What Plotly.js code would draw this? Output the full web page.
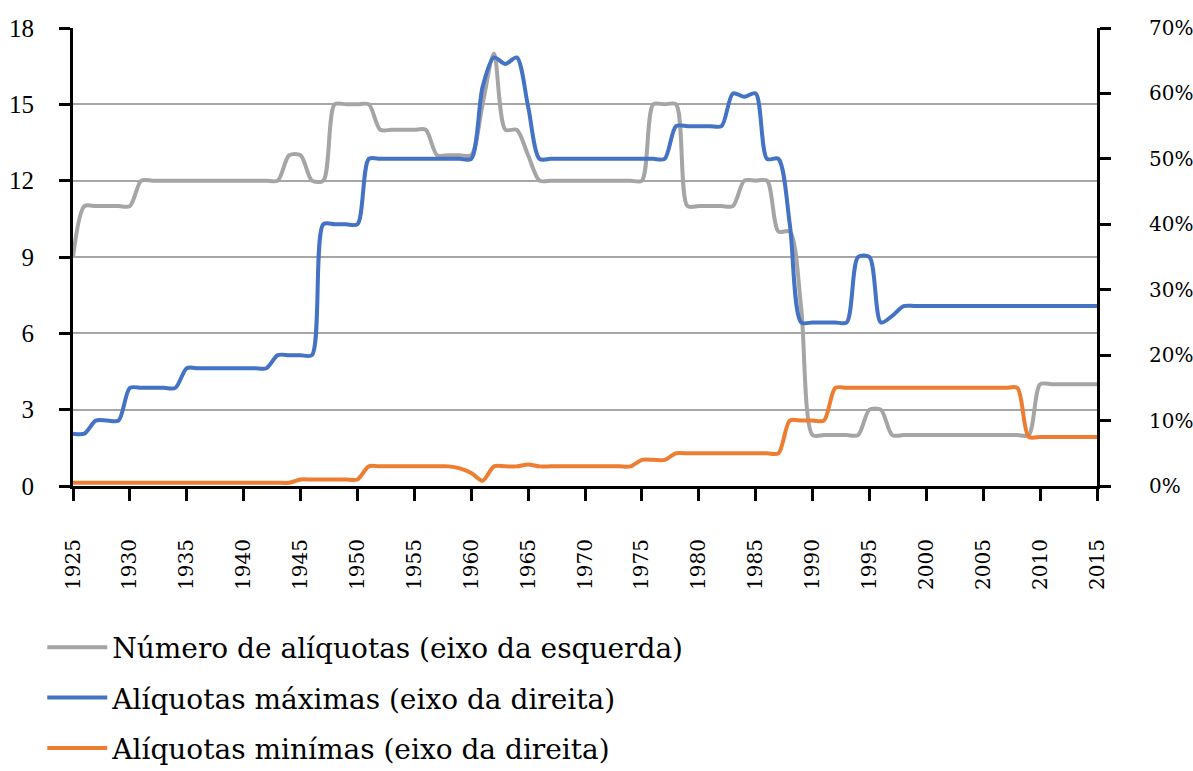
<!DOCTYPE html>
<html>
<head>
<meta charset="utf-8">
<script src="https://cdn.plot.ly/plotly-3.0.1.min.js"></script>
<style>html,body{margin:0;padding:0;background:#fff;}#chart{width:1193px;height:771px;}</style>
</head>
<body>
<div id="chart"></div>
<script>
const years = [1925,1926,1927,1928,1929,1930,1931,1932,1933,1934,1935,1936,1937,1938,1939,1940,1941,1942,1943,1944,1945,1946,1947,1948,1949,1950,1951,1952,1953,1954,1955,1956,1957,1958,1959,1960,1961,1962,1963,1964,1965,1966,1967,1968,1969,1970,1971,1972,1973,1974,1975,1976,1977,1978,1979,1980,1981,1982,1983,1984,1985,1986,1987,1988,1989,1990,1991,1992,1993,1994,1995,1996,1997,1998,1999,2000,2001,2002,2003,2004,2005,2006,2007,2008,2009,2010,2011,2012,2013,2014,2015];

// Número de alíquotas (eixo da esquerda)
const numeroAliquotas = [9,11,11,11,11,11,12,12,12,12,12,12,12,12,12,12,12,12,12,13,13,12,12,15,15,15,15,14,14,14,14,14,13,13,13,13,15,17,14,14,13,12,12,12,12,12,12,12,12,12,12,15,15,15,11,11,11,11,11,12,12,12,10,10,7,2,2,2,2,2,3,3,2,2,2,2,2,2,2,2,2,2,2,2,2,4,4,4,4,4,4];

// Alíquotas máximas (eixo da direita), %
const aliquotasMaximas = [8,8,10,10,10,15,15,15,15,15,18,18,18,18,18,18,18,18,20,20,20,20,40,40,40,40,50,50,50,50,50,50,50,50,50,50,61,65.5,64.5,65.5,58,50,50,50,50,50,50,50,50,50,50,50,50,55,55,55,55,55,60,59.5,60,50,50,40,25,25,25,25,25,35,35,25,26,27.5,27.5,27.5,27.5,27.5,27.5,27.5,27.5,27.5,27.5,27.5,27.5,27.5,27.5,27.5,27.5,27.5,27.5];

// Alíquotas mínimas (eixo da direita), %
const aliquotasMinimas = [0.5,0.5,0.5,0.5,0.5,0.5,0.5,0.5,0.5,0.5,0.5,0.5,0.5,0.5,0.5,0.5,0.5,0.5,0.5,0.5,1,1,1,1,1,1,3,3,3,3,3,3,3,3,2.7,2,0.8,3,3,3,3.3,3,3,3,3,3,3,3,3,3,4,4,4,5,5,5,5,5,5,5,5,5,5,10,10,10,10,15,15,15,15,15,15,15,15,15,15,15,15,15,15,15,15,15,7.5,7.5,7.5,7.5,7.5,7.5,7.5];

const seriesNames = ["Número de alíquotas (eixo da esquerda)", "Alíquotas máximas (eixo da direita)", "Alíquotas minímas (eixo da direita)"];

const FONT = "Liberation Serif, serif";
const WIDE = "DejaVu Serif, serif";

const traces = [
  {x: years, y: numeroAliquotas, name: seriesNames[0], type: "scatter", mode: "lines", yaxis: "y",
   line: {color: "#A5A5A5", width: 4, shape: "spline", smoothing: 0.8}, legendgroup: "a"},
  {x: years, y: aliquotasMaximas, name: seriesNames[1], type: "scatter", mode: "lines", yaxis: "y2",
   line: {color: "#4472C4", width: 4, shape: "spline", smoothing: 0.8}, legendgroup: "b"},
  {x: years, y: aliquotasMinimas, name: seriesNames[2], type: "scatter", mode: "lines", yaxis: "y2",
   line: {color: "#ED7D31", width: 4, shape: "spline", smoothing: 0.8}, legendgroup: "c"}
];

const layout = {
  width: 1193, height: 771,
  margin: {l: 73, r: 96, t: 28, b: 285, pad: 0, autoexpand: false},
  paper_bgcolor: "#fff", plot_bgcolor: "#fff",
  font: {family: FONT, color: "#000", size: 24},
  showlegend: true,
  legend: {x: -0.03, y: -0.298, xanchor: "left", yanchor: "top", orientation: "v",
           font: {family: WIDE, size: 28, color: "#000"}, traceorder: "grouped", tracegroupgap: 11,
           bgcolor: "rgba(0,0,0,0)", itemwidth: 60},
  xaxis: {range: [1925, 2015], tick0: 1925, dtick: 5, tickmode: "linear", tickangle: -90, automargin: false,
          showline: true, linecolor: "#000", linewidth: 3, ticks: "outside", ticklen: 12, tickwidth: 3, tickcolor: "#000",
          showgrid: false, zeroline: false, tickfont: {family: WIDE, size: 20}, ticklabelstandoff: 30},
  yaxis: {range: [0, 18], tick0: 0, dtick: 3, tickmode: "linear", automargin: false,
          showline: true, linecolor: "#000", linewidth: 3, ticks: "outside", ticklen: 11, tickwidth: 3, tickcolor: "#000",
          showgrid: true, gridcolor: "#A6A6A6", gridwidth: 2, zeroline: false,
          tickfont: {family: FONT, size: 25}, ticklabelstandoff: 20},
  yaxis2: {range: [0, 70], tick0: 0, dtick: 10, tickmode: "linear", ticksuffix: "%", overlaying: "y", side: "right", automargin: false,
           showline: true, linecolor: "#000", linewidth: 3, ticks: "outside", ticklen: 11, tickwidth: 3, tickcolor: "#000",
           showgrid: false, zeroline: false, tickfont: {family: WIDE, size: 20}, ticklabelstandoff: 34}
};

Plotly.newPlot("chart", traces, layout, {displayModeBar: false, staticPlot: true});
</script>
</body>
</html>
